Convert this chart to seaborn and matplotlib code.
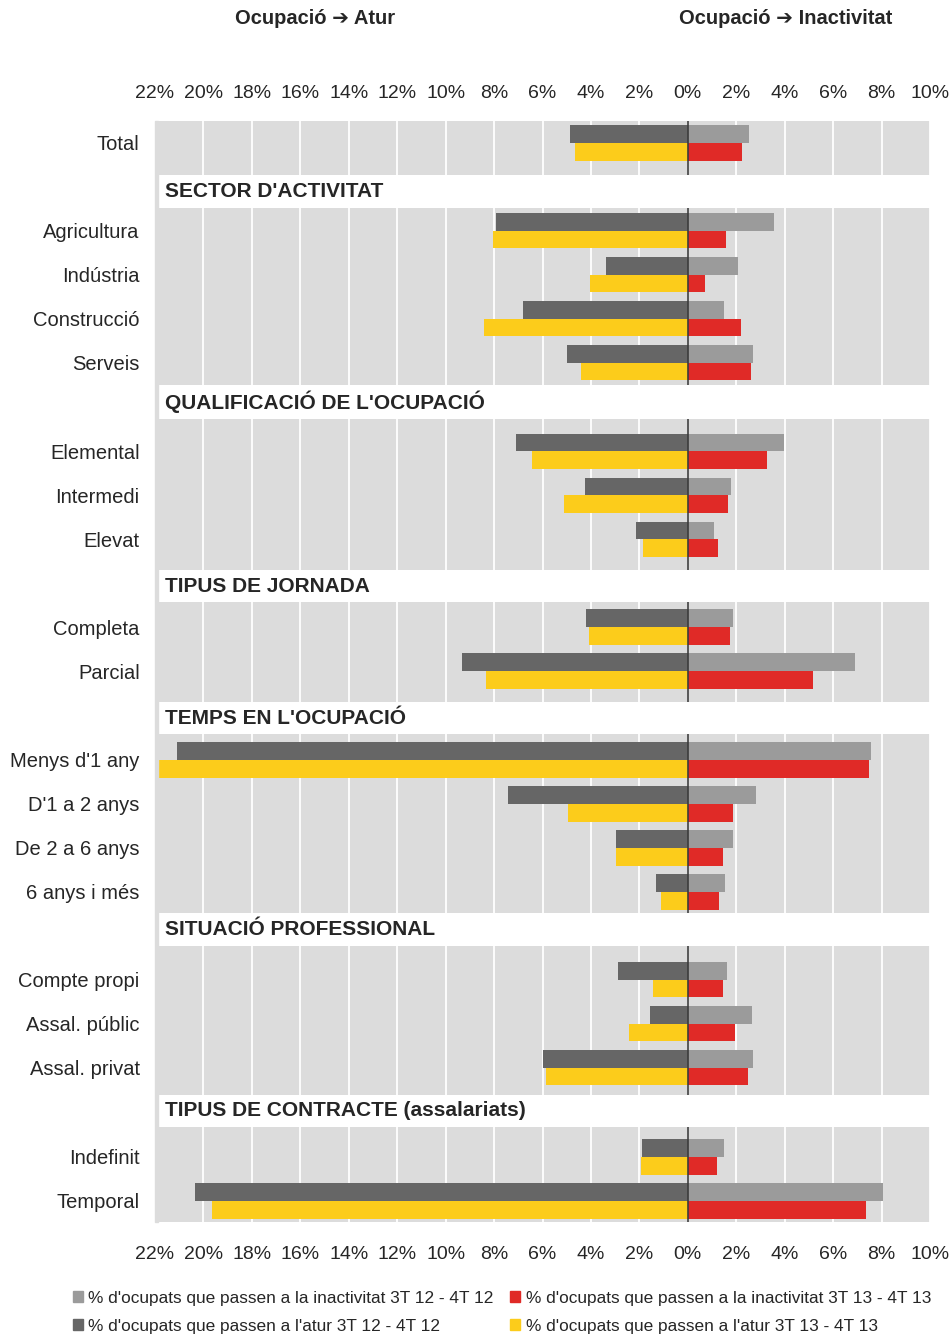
import numpy as np
import pandas as pd
import matplotlib
matplotlib.use("Agg")
import matplotlib.pyplot as plt
import seaborn as sns
from matplotlib.patches import Patch, Rectangle

# -------------------------------
# Data (in %)
# -------------------------------
sections = ["", "SECTOR D'ACTIVITAT", "QUALIFICACIÓ DE L'OCUPACIÓ", "TIPUS DE JORNADA",
            "TEMPS EN L'OCUPACIÓ", "SITUACIÓ PROFESSIONAL", "TIPUS DE CONTRACTE (assalariats)"]
section_sizes = [1, 4, 3, 2, 4, 3, 2]

categories = ["Total",
              "Agricultura", "Indústria", "Construcció", "Serveis",
              "Elemental", "Intermedi", "Elevat",
              "Completa", "Parcial",
              "Menys d'1 any", "D'1 a 2 anys", "De 2 a 6 anys", "6 anys i més",
              "Compte propi", "Assal. públic", "Assal. privat",
              "Indefinit", "Temporal"]

atur_12 = [4.85, 7.94, 3.36, 6.82, 4.97, 7.11, 4.23, 2.12, 4.19, 9.34,
           21.10, 7.41, 2.98, 1.30, 2.87, 1.55, 5.96, 1.88, 20.35]
atur_13 = [4.64, 8.06, 4.02, 8.43, 4.39, 6.45, 5.13, 1.84, 4.06, 8.35,
           21.83, 4.96, 2.98, 1.10, 1.42, 2.41, 5.84, 1.92, 19.65]
inact_12 = [2.54, 3.57, 2.08, 1.51, 2.70, 3.98, 1.79, 1.09, 1.88, 6.91,
            7.57, 2.83, 1.88, 1.54, 1.63, 2.66, 2.70, 1.51, 8.06]
inact_13 = [2.25, 1.59, 0.72, 2.21, 2.62, 3.28, 1.67, 1.26, 1.75, 5.18,
            7.49, 1.88, 1.46, 1.29, 1.46, 1.96, 2.49, 1.22, 7.36]

periods = ["3T 12 - 4T 12", "3T 13 - 4T 13"]
ticks = list(range(-22, 11, 2))

legend_labels = ["% d'ocupats que passen a la inactivitat 3T 12 - 4T 12",
                 "% d'ocupats que passen a l'atur 3T 12 - 4T 12",
                 "% d'ocupats que passen a la inactivitat 3T 13 - 4T 13",
                 "% d'ocupats que passen a l'atur 3T 13 - 4T 13"]

# -------------------------------
# Style
# -------------------------------
DARK = "#666666"
LIGHT = "#9b9b9b"
YELLOW = "#fccc1b"
RED = "#e02a27"
BG = "#dcdcdc"

sns.set_style("white")
plt.rcParams["font.family"] = ["Liberation Sans", "DejaVu Sans"]

W, H = 953, 1337
fig = plt.figure(figsize=(W / 100, H / 100), dpi=100)

# panel extents in pixels (top, bottom) and top padding in row units
panels_px = [(121, 175), (208, 385), (419, 570), (602, 702), (734, 913), (946, 1095), (1127, 1222)]
top_pad = [0.5, 0.52, 0.73, 0.57, 0.59, 0.77, 0.68]
ROW = 44.0
X0, X1 = 155, 930

# long-form tables
atur = pd.DataFrame({
    "cat": categories * 2,
    "val": [-v for v in atur_12] + [-v for v in atur_13],
    "per": [periods[0]] * len(categories) + [periods[1]] * len(categories),
})
inact = pd.DataFrame({
    "cat": categories * 2,
    "val": inact_12 + inact_13,
    "per": [periods[0]] * len(categories) + [periods[1]] * len(categories),
})

# thin grey strip on the left running along all panels
fig.patches.append(Rectangle((X0 / W, 1 - 1222 / H), 3 / W, (1222 - 121) / H,
                             transform=fig.transFigure, color=BG, zorder=0))

start = 0
for i, n in enumerate(section_sizes):
    cats = categories[start:start + n]
    start += n
    top, bot = panels_px[i]
    ax = fig.add_axes([X0 / W, 1 - bot / H, (X1 - X0) / W, (bot - top) / H])
    ax.set_facecolor(BG)

    sns.barplot(data=atur[atur["cat"].isin(cats)], y="cat", x="val", hue="per",
                order=cats, hue_order=periods, palette=[DARK, YELLOW], orient="h",
                width=0.8, errorbar=None, saturation=1, legend=False, ax=ax,
                linewidth=0, zorder=2)
    sns.barplot(data=inact[inact["cat"].isin(cats)], y="cat", x="val", hue="per",
                order=cats, hue_order=periods, palette=[LIGHT, RED], orient="h",
                width=0.8, errorbar=None, saturation=1, legend=False, ax=ax,
                linewidth=0, zorder=2)

    ax.set_xlim(-22, 10)
    h = (bot - top) / ROW
    ax.set_ylim(-top_pad[i] + h, -top_pad[i])
    ax.set_xlabel("")
    ax.set_ylabel("")
    for s in ax.spines.values():
        s.set_visible(False)

    ax.set_xticks(ticks)
    ax.set_xticklabels([f"{abs(t)}%" for t in ticks], fontsize=14)
    ax.grid(axis="x", color="white", lw=1.3, zorder=1)
    ax.set_axisbelow(True)
    ax.axvline(0, color="#3c3c3c", lw=1.2, zorder=3)

    ax.tick_params(axis="y", length=0, pad=11, labelsize=14.5)
    if i == 0:
        ax.tick_params(axis="x", length=0, pad=14, top=True, labeltop=True,
                       bottom=False, labelbottom=False)
    elif i == len(section_sizes) - 1:
        ax.tick_params(axis="x", length=0, pad=17)
    else:
        ax.tick_params(axis="x", length=0, labelbottom=False)

    # section header in the white gap above the panel
    if sections[i]:
        prev_bot = panels_px[i - 1][1]
        fig.text(165 / W, 1 - (prev_bot + top) / 2 / H, sections[i],
                 fontsize=15, fontweight="bold", ha="left", va="center")

# titles
fig.text(315 / W, 1 - 19 / H, "Ocupació ➔ Atur", fontsize=14.5, fontweight="bold",
         ha="center", va="center")
fig.text(786 / W, 1 - 19 / H, "Ocupació ➔ Inactivitat", fontsize=14.5, fontweight="bold",
         ha="center", va="center")

# legend
handles = [Patch(color=LIGHT), Patch(color=DARK), Patch(color=RED), Patch(color=YELLOW)]
fig.legend(handles, legend_labels, ncol=2, loc="upper left",
           bbox_to_anchor=(66 / W, 1 - 1284 / H), frameon=False, fontsize=12.4,
           handlelength=0.6, handleheight=0.6, handletextpad=0.3,
           columnspacing=0.95, labelspacing=0.75, borderaxespad=0)

fig.savefig("out.png", dpi=100)
